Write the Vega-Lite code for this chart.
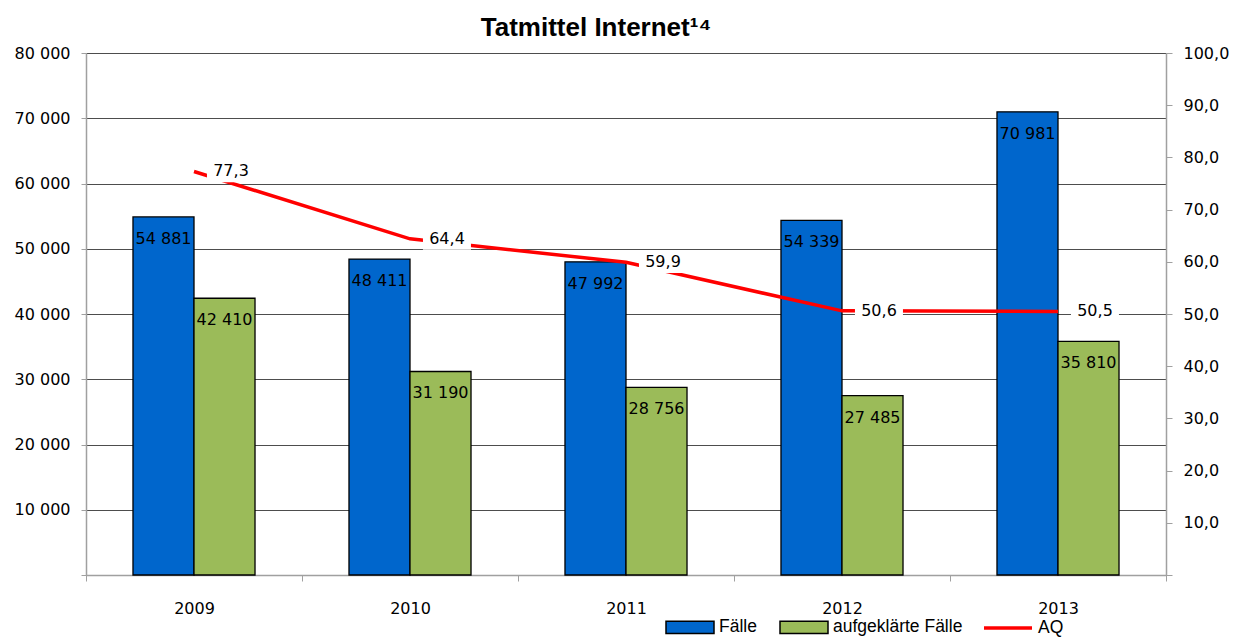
{
  "$schema": "https://vega.github.io/schema/vega-lite/v6.json",
  "width": 1080,
  "height": 522,
  "autosize": "none",
  "padding": {"left": 86, "top": 53, "right": 79, "bottom": 62},
  "background": "white",
  "title": {"text": "Tatmittel Internet¹⁴", "font": "Liberation Sans", "fontSize": 26, "fontWeight": "bold", "color": "#000000", "anchor": "middle", "dx": -30, "offset": 4},
  "config": {
    "view": {"stroke": null},
    "locale": {"number": {"decimal": ",", "thousands": " ", "grouping": [3], "currency": ["", " €"]}},
    "axis": {"labelFont": "DejaVu Sans", "labelFontSize": 16, "labelColor": "#000000", "domainColor": "#A0A0A0", "tickColor": "#A0A0A0", "domainWidth": 1.5}
  },
  "datasets": {
    "bars": [
      {"year": "2009", "series": "Fälle", "value": 54881},
      {"year": "2009", "series": "aufgeklärte Fälle", "value": 42410},
      {"year": "2010", "series": "Fälle", "value": 48411},
      {"year": "2010", "series": "aufgeklärte Fälle", "value": 31190},
      {"year": "2011", "series": "Fälle", "value": 47992},
      {"year": "2011", "series": "aufgeklärte Fälle", "value": 28756},
      {"year": "2012", "series": "Fälle", "value": 54339},
      {"year": "2012", "series": "aufgeklärte Fälle", "value": 27485},
      {"year": "2013", "series": "Fälle", "value": 70981},
      {"year": "2013", "series": "aufgeklärte Fälle", "value": 35810}
    ],
    "aq": [
      {"year": "2009", "aq": 77.3},
      {"year": "2010", "aq": 64.4},
      {"year": "2011", "aq": 59.9},
      {"year": "2012", "aq": 50.6},
      {"year": "2013", "aq": 50.5}
    ]
  },
  "resolve": {"scale": {"y": "independent"}},
  "layer": [
    {
      "data": {"name": "bars"},
      "layer": [
        {
          "mark": {"type": "bar", "stroke": "#000000", "strokeWidth": 1.3},
          "encoding": {
            "x": {"field": "year", "type": "nominal", "scale": {"paddingInner": 0, "paddingOuter": 0}, "axis": {"title": null, "labelAngle": 0, "tickBand": "extent", "tickSize": 6, "labelPadding": 19}},
            "xOffset": {"field": "series", "type": "nominal", "scale": {"domain": ["Fälle", "aufgeklärte Fälle"], "paddingInner": 0, "paddingOuter": 0.77}},
            "y": {"field": "value", "type": "quantitative", "scale": {"domain": [0, 80000], "nice": false}, "axis": {"title": null, "values": [0, 10000, 20000, 30000, 40000, 50000, 60000, 70000, 80000], "labelExpr": "datum.value == 0 ? '' : replace(format(datum.value, ','), ',', ' ')", "grid": true, "gridColor": "#4d4d4d", "gridWidth": 1, "tickSize": 5, "labelPadding": 11}},
            "color": {
              "field": "series", "type": "nominal",
              "scale": {"domain": ["Fälle", "aufgeklärte Fälle"], "range": ["#0066CC", "#9BBB59"]},
              "legend": {
                "title": null, "orient": "none", "direction": "horizontal", "legendX": 579, "legendY": 549,
                "labelFont": "Liberation Sans", "labelFontSize": 17.5, "labelColor": "#000000",
                "symbolType": "M-1,-0.26H1V0.26H-1Z", "symbolSize": 2304, "symbolStrokeColor": "#000000", "symbolStrokeWidth": 1.5, "symbolOpacity": 1,
                "labelOffset": 4, "columnPadding": 20
              }
            }
          }
        },
        {
          "mark": {"type": "text", "baseline": "middle", "align": "center", "dy": 22, "font": "DejaVu Sans", "fontSize": 16, "color": "#000000"},
          "encoding": {
            "x": {"field": "year", "type": "nominal"},
            "xOffset": {"field": "series", "type": "nominal"},
            "y": {"field": "value", "type": "quantitative"},
            "text": {"field": "value", "type": "quantitative", "format": ","}
          }
        }
      ]
    },
    {
      "data": {"name": "aq"},
      "layer": [
        {
          "mark": {"type": "line", "strokeWidth": 3.5},
          "encoding": {
            "x": {"field": "year", "type": "nominal"},
            "y": {"field": "aq", "type": "quantitative", "scale": {"domain": [0, 100], "nice": false}, "axis": {"title": null, "orient": "right", "values": [0, 10, 20, 30, 40, 50, 60, 70, 80, 90, 100], "labelExpr": "datum.value == 0 ? '' : replace(format(datum.value, '.1f'), '.', ',')", "grid": false, "tickSize": 6, "labelPadding": 11}},
            "stroke": {
              "datum": "AQ",
              "scale": {"domain": ["AQ"], "range": ["#FF0000"]},
              "legend": {
                "title": null, "orient": "none", "direction": "horizontal", "legendX": 896, "legendY": 549,
                "labelFont": "Liberation Sans", "labelFontSize": 17.5, "labelColor": "#000000",
                "symbolType": "stroke", "symbolSize": 2304, "symbolStrokeWidth": 3.5, "labelOffset": 4
              }
            }
          }
        },
        {
          "mark": {"type": "point", "shape": "M0.54,-0.45H2.54V0.45H0.54Z", "filled": true, "fill": "#FFFFFF", "opacity": 1, "size": 2304, "strokeWidth": 0},
          "encoding": {
            "x": {"field": "year", "type": "nominal"},
            "y": {"field": "aq", "type": "quantitative"}
          }
        },
        {
          "mark": {"type": "text", "baseline": "middle", "align": "center", "dx": 37, "font": "DejaVu Sans", "fontSize": 16, "color": "#000000"},
          "encoding": {
            "x": {"field": "year", "type": "nominal"},
            "y": {"field": "aq", "type": "quantitative"},
            "text": {"field": "aq", "type": "quantitative", "format": ".1f"}
          }
        }
      ]
    }
  ]
}
